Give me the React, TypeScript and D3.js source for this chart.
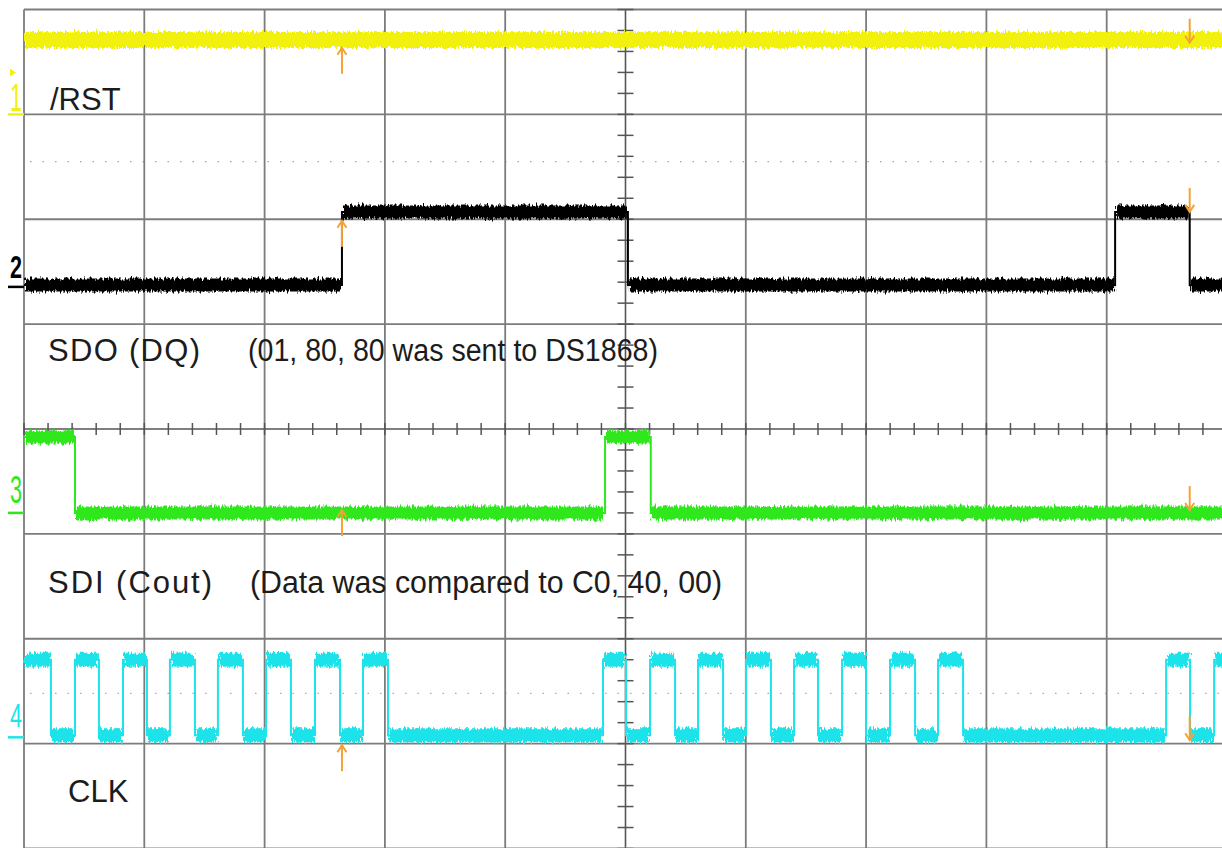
import React from "react";
import * as d3 from "d3";

const W = 1222;
const H = 848;

// Scope display: 10 horizontal divisions, 8 vertical divisions (values in divisions)
const timeDomain = [-5, 5];
const voltDomain = [4, -4];

const channelMarks = ["1", "2", "3", "4"];
const channelColors = ["#f2f010", "#000000", "#2ee81e", "#1ee3ea"];
const groundLevels = [3.0, 1.355, -0.8, -2.94];
const highLevels = [3.71, 2.07, -0.076, -2.2];
const lowLevels = [3.0, 1.374, -0.8, -2.92];
const startStates = [1, 0, 1, 1];

const rstEdges: number[] = [];
const sdoEdges = [-2.357, 0.02, 4.07, 4.69];
const sdiEdges = [-4.576, -0.17, 0.21];
const clkEdges = [
  -4.776, -4.576, -4.377, -4.177, -3.978, -3.787, -3.579, -3.388, -3.18, -2.988,
  -2.781, -2.581, -2.373, -2.182, -1.974, -0.187, 0.004, 0.204, 0.412, 0.603,
  0.811, 1.002, 1.209, 1.401, 1.6, 1.8, 1.999, 2.199, 2.407, 2.598, 2.806,
  4.494, 4.693, 4.893,
];
const edgeLists = [rstEdges, sdoEdges, sdiEdges, clkEdges];
const bandWidths = [16, 13, 13, 14];

// cursor arrows: tip levels per channel
const cursorUpTime = -2.357;
const cursorUpTips = [3.635, 1.985, -0.773, -3.015];
const cursorDownTime = 4.69;
const cursorDownTips = [3.683, 2.07, -0.773, -2.968];

const dottedRows = [2.55, -2.52];

const labelTexts = [
  "/RST",
  "SDO (DQ)",
  "(01, 80, 80 was sent to DS1868)",
  "SDI (Cout)",
  "(Data was compared to C0, 40, 00)",
  "CLK",
];

export default function App() {
  const x = d3.scaleLinear().domain(timeDomain).range([24, 1227]);
  const y = d3.scaleLinear().domain(voltDomain).range([9.5, 848.5]);

  const vDivs = d3.range(timeDomain[0], timeDomain[1] + 1);
  const hDivs = d3.range(voltDomain[1], voltDomain[0] + 1);
  const xTicks = d3.range(-25, 26).map((i) => i * 0.2);
  const yTicks = d3.range(-20, 21).map((i) => i * 0.2);

  const line = d3
    .line<[number, number]>()
    .x((d) => x(d[0]))
    .y((d) => y(d[1]));

  const traces = edgeLists.map((edges, ci) => {
    const times = [timeDomain[0], ...edges, timeDomain[1] + 0.1];
    const segs: { t0: number; t1: number; lv: number }[] = [];
    let st = startStates[ci];
    for (let i = 0; i < times.length - 1; i++) {
      segs.push({
        t0: times[i],
        t1: times[i + 1],
        lv: st ? highLevels[ci] : lowLevels[ci],
      });
      st = 1 - st;
    }
    const pts: [number, number][] = [];
    segs.forEach((s) => {
      pts.push([s.t0, s.lv]);
      pts.push([s.t1, s.lv]);
    });
    return { segs, path: line(pts) || "" };
  });

  const font = "'Liberation Sans', Arial, sans-serif";
  const orange = "#f4a236";
  const markBase = [3, 9, 10, 10];
  const markSize = [38, 32, 38, 34];

  return (
    <svg
      width={W}
      height={H}
      style={{ position: "absolute", left: 0, top: 0, display: "block", background: "#fff" }}
    >
      <defs>
        <filter id="noise" filterUnits="userSpaceOnUse" x="0" y="0" width={W} height={H}>
          <feTurbulence type="fractalNoise" baseFrequency="0.55 0.12" numOctaves="2" seed="7" result="t" />
          <feDisplacementMap in="SourceGraphic" in2="t" scale="8" xChannelSelector="R" yChannelSelector="G" />
        </filter>
      </defs>
      <rect x={0} y={0} width={W} height={H} fill="#fff" />

      {/* faint dotted rows */}
      {dottedRows.map((d, i) => (
        <line key={"dr" + i} x1={30} x2={W} y1={y(d)} y2={y(d)} stroke="#a8a8a8" strokeWidth={1.3} strokeDasharray="1.5 11" />
      ))}

      {/* graticule */}
      {vDivs.map((d) => (
        <line key={"v" + d} x1={x(d)} x2={x(d)} y1={y(4)} y2={H} stroke={d === 0 ? "#555" : "#7c7c7c"} strokeWidth={d === 0 ? 1.6 : 1.8} />
      ))}
      {hDivs.map((d) => (
        <line key={"h" + d} x1={x(-5)} x2={W} y1={y(d)} y2={y(d)} stroke={d === 0 ? "#555" : "#7c7c7c"} strokeWidth={d === 0 ? 1.6 : 1.8} />
      ))}
      {xTicks.map((t, i) => (
        <line key={"xt" + i} x1={x(t)} x2={x(t)} y1={y(0) - 6} y2={y(0) + 6} stroke="#555" strokeWidth={1.5} />
      ))}
      {yTicks.map((t, i) => (
        <line key={"yt" + i} x1={x(0) - 8} x2={x(0) + 8} y1={y(t)} y2={y(t)} stroke="#555" strokeWidth={1.5} />
      ))}

      {/* traces */}
      {traces.map((tr, ci) => (
        <g key={"tr" + ci}>
          <path d={tr.path} fill="none" stroke={channelColors[ci]} strokeWidth={2} />
          <g filter="url(#noise)">
            {tr.segs.map((s, si) => (
              <line
                key={si}
                x1={x(s.t0) + 1}
                x2={x(s.t1) - 1}
                y1={y(s.lv)}
                y2={y(s.lv)}
                stroke={channelColors[ci]}
                strokeWidth={bandWidths[ci]}
              />
            ))}
          </g>
        </g>
      ))}

      {/* cursor arrows */}
      {cursorUpTips.map((lv, i) => {
        const cx = x(cursorUpTime);
        const cy = y(lv);
        return (
          <g key={"cu" + i} stroke={orange} strokeWidth={2} fill="none">
            <line x1={cx} x2={cx} y1={cy} y2={cy + 26} />
            <path d={`M${cx - 4.5},${cy + 7} L${cx},${cy} L${cx + 4.5},${cy + 7}`} />
          </g>
        );
      })}
      {cursorDownTips.map((lv, i) => {
        const cx = x(cursorDownTime);
        const cy = y(lv);
        return (
          <g key={"cd" + i} stroke={orange} strokeWidth={2} fill="none">
            <line x1={cx} x2={cx} y1={cy} y2={cy - 24} />
            <path d={`M${cx - 4.5},${cy - 7} L${cx},${cy} L${cx + 4.5},${cy - 7}`} />
          </g>
        );
      })}

      {/* channel ground markers */}
      {groundLevels.map((g, ci) => (
        <g key={"gm" + ci}>
          <line x1={8} x2={24} y1={y(g)} y2={y(g)} stroke={channelColors[ci]} strokeWidth={2.5} />
          <text
            x={10}
            y={y(g) - markBase[ci]}
            fontFamily={font}
            fontSize={markSize[ci]}
            fontWeight={ci === 1 ? "bold" : "normal"}
            fill={channelColors[ci]}
            textLength={12}
            lengthAdjust="spacingAndGlyphs"
          >
            {channelMarks[ci]}
          </text>
        </g>
      ))}
      <path d={`M10,${y(3.4) - 4} L16,${y(3.4)} L10,${y(3.4) + 4} Z`} fill={channelColors[0]} />

      {/* labels */}
      <g fontFamily={font} fontSize={31} fill="#1c1c1c">
        <text x={50} y={110}>{labelTexts[0]}</text>
        <text x={48} y={361} textLength={152} lengthAdjust="spacing">{labelTexts[1]}</text>
        <text x={248} y={361} textLength={410} lengthAdjust="spacingAndGlyphs">{labelTexts[2]}</text>
        <text x={48} y={593} textLength={164} lengthAdjust="spacing">{labelTexts[3]}</text>
        <text x={250} y={593} textLength={472} lengthAdjust="spacingAndGlyphs">{labelTexts[4]}</text>
        <text x={68} y={802}>{labelTexts[5]}</text>
      </g>
    </svg>
  );
}
